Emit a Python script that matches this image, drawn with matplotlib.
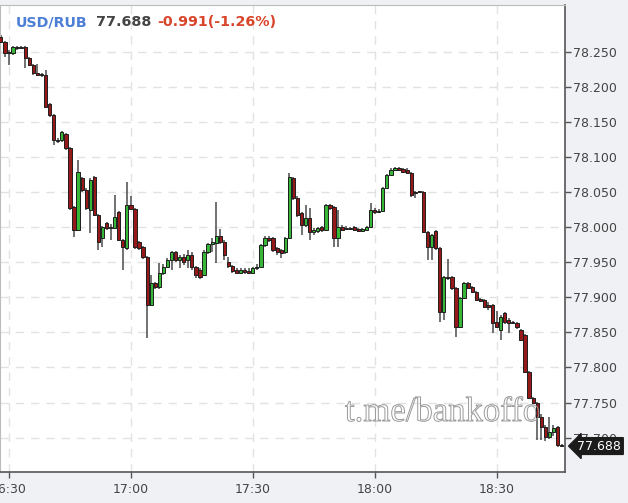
import matplotlib
matplotlib.use("Agg")
import matplotlib.pyplot as plt
from matplotlib.patches import Rectangle
import matplotlib.patheffects as pe

# ---------------- data ----------------
symbol = "USD/RUB"
last_price = "77.688"
change_text = "-0.991(-1.26%)"
watermark = "t.me/bankoffo"

start_minute = -2  # minutes after 16:30 of the first candle

opens = [78.271, 78.264, 78.250, 78.248, 78.257, 78.255, 78.257, 78.241, 78.231, 78.220,
         78.217, 78.217, 78.176, 78.160, 78.124, 78.124, 78.133, 78.113, 78.029, 77.996,
         78.070, 78.053, 78.025, 78.072, 78.017, 77.985, 78.006, 78.000, 77.999, 78.022,
         77.982, 77.970, 78.032, 78.026, 77.979, 77.972, 77.958, 77.889, 77.921, 77.915,
         77.935, 77.943, 77.953, 77.965, 77.953, 77.958, 77.953, 77.960, 77.943, 77.939,
         77.932, 77.965, 77.976, 77.978, 77.988, 77.979, 77.950, 77.945, 77.939, 77.935,
         77.939, 77.938, 77.935, 77.941, 77.943, 77.975, 77.985, 77.985, 77.970, 77.968,
         77.965, 77.985, 78.070, 78.042, 78.020, 78.003, 78.013, 77.993, 77.995, 78.000,
         77.996, 78.032, 78.029, 77.985, 78.000, 77.997, 77.999, 78.000, 77.997, 77.995,
         77.996, 78.000, 78.025, 78.022, 78.023, 78.056, 78.074, 78.082, 78.084, 78.083,
         78.082, 78.077, 78.050, 78.050, 78.050, 77.993, 77.972, 77.995, 77.970, 77.879,
         77.929, 77.929, 77.913, 77.858, 77.899, 77.921, 77.915, 77.908, 77.898, 77.896,
         77.889, 77.889, 77.865, 77.854, 77.878, 77.868, 77.865, 77.864, 77.854, 77.846,
         77.794, 77.757, 77.750, 77.730, 77.715, 77.701, 77.708, 77.715, 77.690]
highs = [78.274, 78.265, 78.252, 78.258, 78.258, 78.258, 78.258, 78.243, 78.233, 78.233,
         78.220, 78.224, 78.177, 78.161, 78.127, 78.137, 78.134, 78.114, 78.030, 78.096,
         78.072, 78.056, 78.070, 78.073, 78.019, 78.002, 78.007, 78.005, 78.046, 78.023,
         77.983, 78.064, 78.044, 78.027, 77.980, 77.973, 77.959, 77.932, 77.922, 77.949,
         77.948, 77.956, 77.966, 77.966, 77.960, 77.962, 77.968, 77.965, 77.945, 77.942,
         77.968, 77.978, 77.985, 78.036, 77.997, 77.982, 77.958, 77.946, 77.942, 77.941,
         77.941, 77.941, 77.943, 77.948, 77.976, 77.988, 77.988, 77.986, 77.972, 77.969,
         77.986, 78.077, 78.072, 78.044, 78.022, 78.032, 78.027, 77.999, 78.000, 78.002,
         78.033, 78.033, 78.030, 78.025, 78.003, 78.002, 78.000, 78.002, 77.999, 77.999,
         78.002, 78.035, 78.027, 78.026, 78.057, 78.076, 78.084, 78.086, 78.086, 78.084,
         78.084, 78.079, 78.052, 78.052, 78.052, 77.995, 77.990, 77.996, 77.972, 77.930,
         77.955, 77.930, 77.915, 77.901, 77.922, 77.922, 77.916, 77.909, 77.899, 77.898,
         77.893, 77.891, 77.881, 77.875, 77.879, 77.871, 77.866, 77.865, 77.855, 77.848,
         77.795, 77.758, 77.751, 77.733, 77.718, 77.730, 77.718, 77.717, 77.691]
lows = [78.262, 78.243, 78.231, 78.245, 78.252, 78.254, 78.227, 78.230, 78.217, 78.215,
        78.214, 78.170, 78.157, 78.117, 78.120, 78.121, 78.110, 78.025, 77.986, 77.995,
        78.050, 78.025, 77.992, 78.016, 77.968, 77.972, 77.996, 77.982, 77.997, 77.982,
        77.939, 77.968, 78.025, 77.969, 77.968, 77.955, 77.842, 77.888, 77.912, 77.912,
        77.932, 77.942, 77.939, 77.950, 77.942, 77.946, 77.942, 77.939, 77.928, 77.926,
        77.930, 77.962, 77.965, 77.949, 77.976, 77.953, 77.942, 77.935, 77.933, 77.933,
        77.933, 77.933, 77.933, 77.939, 77.942, 77.972, 77.979, 77.965, 77.960, 77.956,
        77.962, 77.983, 78.039, 78.015, 77.989, 78.000, 77.982, 77.989, 77.992, 77.993,
        77.995, 78.025, 77.972, 77.972, 77.995, 77.996, 77.996, 77.995, 77.993, 77.993,
        77.995, 77.999, 78.019, 78.020, 78.022, 78.055, 78.073, 78.080, 78.080, 78.077,
        78.076, 78.043, 78.042, 78.049, 77.992, 77.953, 77.953, 77.968, 77.865, 77.868,
        77.925, 77.911, 77.844, 77.856, 77.898, 77.912, 77.906, 77.895, 77.893, 77.885,
        77.882, 77.849, 77.856, 77.839, 77.862, 77.849, 77.862, 77.855, 77.838, 77.792,
        77.755, 77.748, 77.697, 77.697, 77.695, 77.698, 77.703, 77.687, 77.687]
closes = [78.264, 78.248, 78.248, 78.257, 78.255, 78.257, 78.241, 78.231, 78.220, 78.217,
          78.217, 78.171, 78.160, 78.124, 78.123, 78.136, 78.113, 78.027, 77.996, 78.079,
          78.053, 78.027, 78.067, 78.017, 77.979, 78.000, 77.999, 77.999, 78.015, 77.982,
          77.972, 78.032, 78.026, 77.972, 77.970, 77.958, 77.889, 77.921, 77.915, 77.935,
          77.943, 77.953, 77.965, 77.953, 77.958, 77.950, 77.960, 77.943, 77.932, 77.929,
          77.965, 77.976, 77.979, 77.988, 77.979, 77.960, 77.945, 77.938, 77.935, 77.939,
          77.936, 77.935, 77.942, 77.943, 77.975, 77.985, 77.982, 77.968, 77.965, 77.963,
          77.985, 78.072, 78.042, 78.017, 78.003, 78.013, 77.993, 77.996, 77.999, 77.996,
          78.032, 78.027, 77.985, 78.000, 77.996, 77.999, 77.997, 77.996, 77.995, 77.997,
          78.000, 78.025, 78.022, 78.023, 78.056, 78.074, 78.082, 78.084, 78.082, 78.079,
          78.077, 78.046, 78.049, 78.050, 77.993, 77.972, 77.989, 77.970, 77.879, 77.929,
          77.928, 77.913, 77.858, 77.899, 77.921, 77.913, 77.908, 77.896, 77.895, 77.886,
          77.886, 77.864, 77.858, 77.872, 77.865, 77.864, 77.864, 77.858, 77.839, 77.794,
          77.757, 77.750, 77.730, 77.715, 77.701, 77.708, 77.714, 77.690, 77.688]

x_ticks = [0, 30, 60, 90, 120]
x_tick_labels = ["16:30", "17:00", "17:30", "18:00", "18:30"]
y_ticks = [77.70, 77.75, 77.80, 77.85, 77.90, 77.95, 78.00, 78.05, 78.10, 78.15, 78.20, 78.25]
last_value = 77.688

# ---------------- figure ----------------
W, H = 628, 503
fig = plt.figure(figsize=(W / 100, H / 100), dpi=100, facecolor="#eff1f4")
ax = fig.add_axes([0 / W, 1 - 472 / H, 565 / W, (472 - 5) / H])
ax.set_facecolor("white")

up_color = "#37b737"
down_color = "#961818"
edge = "#1e1e1e"
bw = 0.8
for i in range(len(opens)):
    x = start_minute + i
    o, h, l, c = opens[i], highs[i], lows[i], closes[i]
    ax.vlines(x, l, h, color="#4a4a4a", lw=1.1, zorder=2)
    bottom = min(o, c)
    height = max(abs(c - o), 0.0012)
    col = up_color if c >= o else down_color
    ax.add_patch(Rectangle((x - bw / 2, bottom), bw, height, facecolor=col,
                           edgecolor=edge, lw=0.7, zorder=3))

ax.set_xlim(-2.215, 136.84)
ax.set_ylim(77.651, 78.3165)

ax.set_xticks(x_ticks)
ax.set_xticklabels(x_tick_labels)
ax.set_yticks(y_ticks)
ax.set_yticklabels([f"{v:.3f}" for v in y_ticks])
ax.yaxis.tick_right()
ax.tick_params(axis="both", direction="out", length=4, width=1, color="#555555",
               labelcolor="#444444", labelsize=9)
ax.tick_params(axis="x", pad=4)
ax.tick_params(axis="y", pad=2)
ax.grid(True, color="#e2e2e2", lw=1, ls=(0, (6, 5)))
ax.set_axisbelow(True)

for s in ("left", "top"):
    ax.spines[s].set_color("#bbbbbb")
for s in ("right", "bottom"):
    ax.spines[s].set_color("#555555")
    ax.spines[s].set_linewidth(1.2)

# header
y_head = 1 - 26 / H
fig.text(16 / W, y_head, symbol, color="#4d7fd6", fontsize=10.3, fontweight="bold", va="baseline")
fig.text(96 / W, y_head, last_price, color="#444444", fontsize=10.3, fontweight="bold", va="baseline")
fig.text(157 / W, y_head, change_text, color="#d9452b", fontsize=10.3, fontweight="bold", va="baseline")

# last price label
ax.annotate(last_price, xy=(1.0, last_value), xycoords=("axes fraction", "data"),
            xytext=(9, 0), textcoords="offset points", va="center", ha="left",
            color="white", fontsize=9, annotation_clip=False, zorder=10,
            bbox=dict(boxstyle="larrow,pad=0.15", fc="#1b1b1b", ec="#1b1b1b"))

# watermark
fig.text(345 / W, 1 - 421 / H, watermark, family="Liberation Serif", fontsize=25,
         color=(1, 1, 1, 0), va="baseline",
         path_effects=[pe.withStroke(linewidth=0.7, foreground="#999999")])

fig.savefig("out.png", dpi=100, facecolor=fig.get_facecolor())
